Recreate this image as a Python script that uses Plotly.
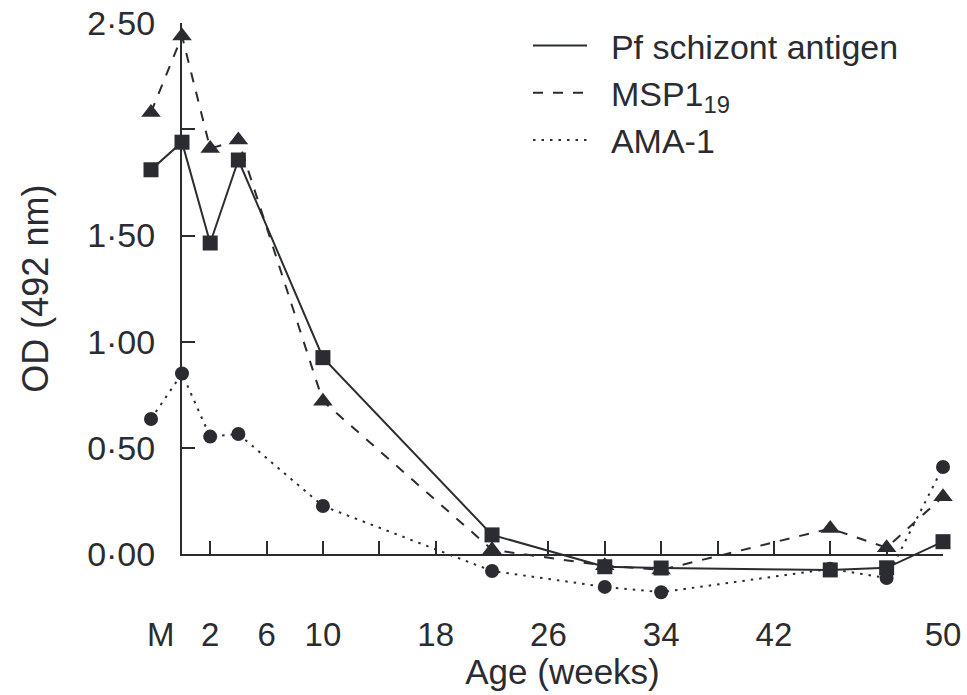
import plotly.graph_objects as go

W, H = 967, 695

# ---------------- data ----------------
# plotted position along the age axis (weeks as drawn; first point = mother "M")
x_plot = [-2.2, 0, 2, 4, 10, 22, 30, 34, 46, 50, 54]
pf_schizont = [1.81, 1.94, 1.465, 1.856, 0.925, 0.09, -0.06, -0.066, -0.075, -0.065, 0.058]
msp1_19 = [2.08, 2.44, 1.91, 1.95, 0.72, 0.02, -0.055, -0.075, 0.12, 0.03, 0.27]
ama1 = [0.636, 0.85, 0.553, 0.565, 0.226, -0.08, -0.155, -0.18, -0.07, -0.113, 0.41]

x_tick_pos = [-1.5, 2, 6, 10, 18, 26, 34, 42, 54]
x_tick_text = ["M", "2", "6", "10", "18", "26", "34", "42", "50"]
x_minor_ticks = list(range(2, 55, 4))
y_tick_vals = [0, 0.5, 1.0, 1.5, 2.0, 2.5]
y_tick_text = ["0·00", "0·50", "1·00", "1·50", "", "2·50"]

series_names = ["Pf schizont antigen", "MSP1<sub>19</sub>", "AMA-1"]

# ---------------- styling / layout geometry ----------------
C = "#2b2c31"
FONT = "Liberation Sans"
PAD = "\u00a0\u00a0"  # spacing between legend line sample and its text

# frame (axes) box in pixels
AX_L, AX_R, AX_T, AX_B = 182, 943, 23.3, 554
X0, X1 = 0, 54
Y0, Y1 = 0, 2.5
ppw = (AX_R - AX_L) / (X1 - X0)
ppu = (AX_B - AX_T) / (Y1 - Y0)

# data box (larger, invisible axes, same scale)
D_L, D_R, D_T, D_B = 120, 962, 8, 612
x2_range = [X0 + (D_L - AX_L) / ppw, X0 + (D_R - AX_L) / ppw]
y2_range = [Y0 + (AX_B - D_B) / ppu, Y0 + (AX_B - D_T) / ppu]

fig = go.Figure()

styles = [
    dict(dash="solid", symbol="square", size=15),
    dict(dash="10px,10px", symbol="triangle-up", size=17),
    dict(dash="2.5px,6px", symbol="circle", size=14),
]
values = [pf_schizont, msp1_19, ama1]

# legend entries (line samples only)
for name, st in zip(series_names, styles):
    fig.add_trace(go.Scatter(
        x=[None], y=[None], mode="lines", name=PAD + name,
        line=dict(color=C, width=2, dash=st["dash"]),
        xaxis="x", yaxis="y", showlegend=True,
    ))

# data traces
for name, st, vals in zip(series_names, styles, values):
    fig.add_trace(go.Scatter(
        x=x_plot, y=vals, mode="lines+markers", name=name,
        line=dict(color=C, width=2, dash=st["dash"]),
        marker=dict(symbol=st["symbol"], size=st["size"], color=C, line=dict(width=0)),
        xaxis="x2", yaxis="y2", showlegend=False, cliponaxis=False,
    ))

fig.update_layout(
    template="none",
    width=W, height=H,
    margin=dict(l=0, r=0, t=0, b=0, autoexpand=False),
    paper_bgcolor="white", plot_bgcolor="rgba(0,0,0,0)",
    font=dict(family=FONT, color=C, size=33),
    showlegend=True,
    legend=dict(
        x=528 / W, y=1 - 17 / H, xanchor="left", yanchor="top",
        font=dict(size=34, family=FONT, color=C),
        itemwidth=54, bgcolor="rgba(0,0,0,0)", tracegroupgap=0,
    ),
    xaxis=dict(
        domain=[AX_L / W, AX_R / W], range=[X0, X1], anchor="y", automargin=False,
        showline=True, linecolor=C, linewidth=2,
        ticks="inside", ticklen=13, tickwidth=2, tickcolor=C,
        tickvals=x_minor_ticks, showticklabels=False,
        showgrid=False, zeroline=False,
        title=dict(text="Age (weeks)", font=dict(size=35, family=FONT, color=C), standoff=104),
    ),
    yaxis=dict(
        domain=[(H - AX_B) / H, (H - AX_T) / H], range=[Y0, Y1], anchor="x", automargin=False,
        showline=True, linecolor=C, linewidth=2,
        ticks="inside", ticklen=13, tickwidth=2, tickcolor=C,
        tickvals=y_tick_vals, ticktext=y_tick_text,
        tickfont=dict(size=34, family=FONT, color=C), ticklabelstandoff=18,
        showgrid=False, zeroline=False,
        title=dict(text="OD (492 nm)", font=dict(size=36, family=FONT, color=C), standoff=28),
    ),
    xaxis2=dict(
        domain=[D_L / W, D_R / W], range=x2_range, anchor="y2", automargin=False,
        showline=False, ticks="", showgrid=False, zeroline=False,
        tickvals=x_tick_pos, ticktext=x_tick_text,
        tickfont=dict(size=33, family=FONT, color=C), ticklabelstandoff=0,
    ),
    yaxis2=dict(
        domain=[(H - D_B) / H, (H - D_T) / H], range=y2_range, anchor="x2", automargin=False,
        visible=False, showgrid=False, zeroline=False,
    ),
)

fig.write_html("out.html")
